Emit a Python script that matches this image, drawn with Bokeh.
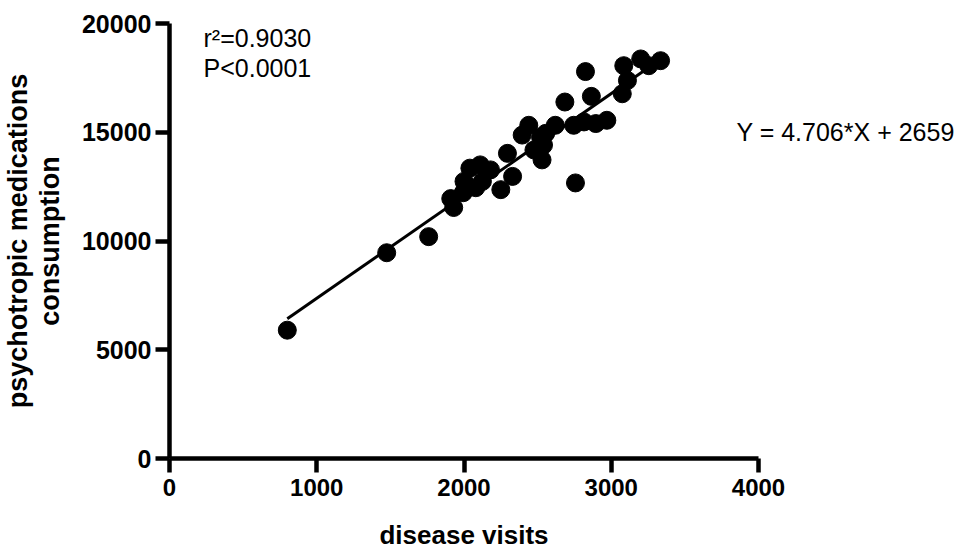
from bokeh.plotting import figure
from bokeh.models import Range1d, Label, ColumnDataSource, FixedTicker, LinearAxis
from bokeh.embed import file_html
from bokeh.resources import INLINE

# data
visits = [800, 1475, 1760, 1930, 1910, 1995, 2000, 2040, 2110, 2180, 2125, 2080,
          2250, 2330, 2295, 2395, 2440, 2475, 2530, 2540, 2520, 2555, 2620, 2685,
          2745, 2757, 2825, 2865, 2815, 2895, 2970, 3075, 3110, 3085, 3200, 3255, 3335]
consumption = [5900, 9460, 10200, 11540, 11950, 12220, 12740, 13350, 13500, 13270, 12740, 12450,
               12360, 12970, 14030, 14870, 15320, 14185, 13730, 14410, 14770, 14950, 15320, 16390,
               15320, 12670, 17790, 16650, 15475, 15400, 15550, 16770, 17380, 18060, 18370, 18060, 18290]
slope = 4.706
intercept = 2659
equation = "Y = 4.706*X + 2659"
x_ticks = [0, 1000, 2000, 3000, 4000]
y_ticks = [0, 5000, 10000, 15000, 20000]

FONT = "Liberation Sans"

p = figure(width=964, height=552, output_backend="svg", toolbar_location=None,
           x_range=Range1d(0, 4000), y_range=Range1d(0, 20000),
           min_border_left=169, min_border_right=206, min_border_top=23, min_border_bottom=91)
p.outline_line_color = None
p.xgrid.visible = False
p.ygrid.visible = False
p.background_fill_color = "white"
p.border_fill_color = "white"

fit_x = [min(visits), max(visits)]
fit_y = [slope * v + intercept for v in fit_x]
p.line(fit_x, fit_y, line_color="black", line_width=3)

src = ColumnDataSource(dict(x=visits, y=consumption))
p.scatter("x", "y", source=src, size=18, fill_color="black", line_color="black")

for ax, ticks in ((p.xaxis[0], x_ticks), (p.yaxis[0], y_ticks)):
    ax.ticker = FixedTicker(ticks=ticks)
    ax.minor_tick_line_color = None
    ax.axis_line_width = 4.5
    ax.axis_line_color = "black"
    ax.major_tick_line_width = 4.5
    ax.major_tick_line_color = "black"
    ax.major_tick_in = 0
    ax.major_tick_out = 14
    ax.major_label_text_font = FONT
    ax.major_label_text_font_style = "bold"
    ax.major_label_text_font_size = "25px"
    ax.major_label_text_color = "black"
    ax.axis_label_text_font = FONT
    ax.axis_label_text_font_style = "bold"
    ax.axis_label_text_color = "black"

p.xaxis[0].axis_label = "disease visits"
p.xaxis[0].axis_label_text_font_size = "26px"
p.xaxis[0].major_label_text_font_size = "24px"
p.xaxis[0].major_label_standoff = 6
p.xaxis[0].axis_label_standoff = 21
p.yaxis[0].axis_label = "psychotropic medications\nconsumption"
p.yaxis[0].axis_label_text_font_size = "27px"
p.yaxis[0].axis_label_text_line_height = 1.05
p.yaxis[0].major_label_standoff = 4
p.yaxis[0].axis_label_standoff = 14

# regression equation shown at the right, at the height of y = 15000
eq_axis = LinearAxis(ticker=FixedTicker(ticks=[15000]),
                     major_label_overrides={15000: equation},
                     axis_line_color=None, major_tick_line_color=None,
                     minor_tick_line_color=None, major_tick_in=0, major_tick_out=0,
                     major_label_standoff=-22, major_label_text_font=FONT,
                     major_label_text_font_size="25px", major_label_text_color="black")
p.add_layout(eq_axis, "right")

for txt, yv in (("r\u00b2=0.9030", 19339), ("P<0.0001", 17970)):
    p.add_layout(Label(x=231, y=yv, text=txt, text_font=FONT, text_font_size="25px",
                       text_color="black", text_baseline="alphabetic", text_align="left"))

open("out.html", "w").write(file_html(p, INLINE))
